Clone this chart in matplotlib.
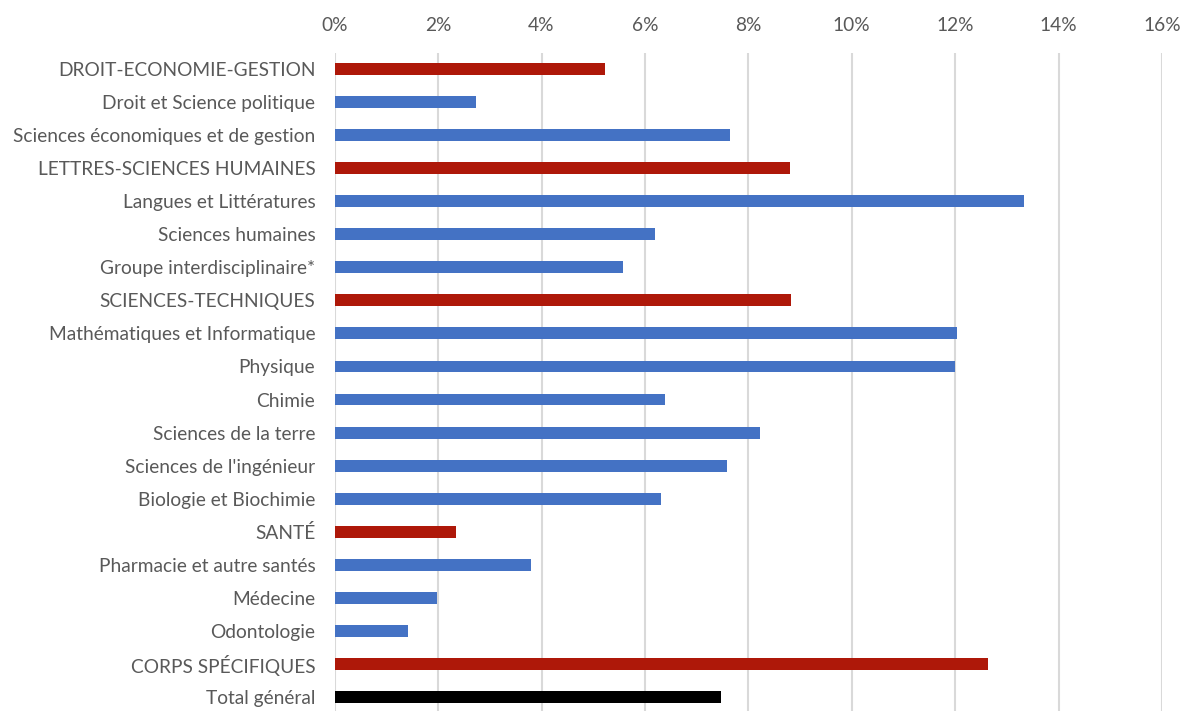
import matplotlib.pyplot as plt
from matplotlib.ticker import PercentFormatter

# Data
categories = [
    "DROIT-ECONOMIE-GESTION",
    "Droit et Science politique",
    "Sciences économiques et de gestion",
    "LETTRES-SCIENCES HUMAINES",
    "Langues et Littératures",
    "Sciences humaines",
    "Groupe interdisciplinaire*",
    "SCIENCES-TECHNIQUES",
    "Mathématiques et Informatique",
    "Physique",
    "Chimie",
    "Sciences de la terre",
    "Sciences de l'ingénieur",
    "Biologie et Biochimie",
    "SANTÉ",
    "Pharmacie et autre santés",
    "Médecine",
    "Odontologie",
    "CORPS SPÉCIFIQUES",
    "Total général",
]
values = [5.22, 2.73, 7.64, 8.80, 13.34, 6.20, 5.58, 8.83, 12.03, 11.99,
          6.38, 8.23, 7.58, 6.32, 2.35, 3.80, 1.97, 1.42, 12.63, 7.48]
kinds = ["group", "sub", "sub", "group", "sub", "sub", "sub", "group", "sub", "sub",
         "sub", "sub", "sub", "sub", "group", "sub", "sub", "sub", "group", "total"]

palette = {"group": "#AE1809", "sub": "#4472C4", "total": "#000000"}
colors = [palette[k] for k in kinds]

plt.rcParams['font.family'] = ['Lato', 'DejaVu Sans']

fig = plt.figure(figsize=(11.83, 7.11), dpi=100)
ax = fig.add_axes([334.7 / 1183, 0, (1162 - 334.7) / 1183, (711 - 52.5) / 711])

y = list(range(len(categories)))
ax.barh(y, values, height=0.36, color=colors, zorder=3)

ax.set_xlim(0, 16)
ax.set_ylim((711 - 69) / 33.05, -0.5)
ax.set_xticks(range(0, 17, 2))
ax.xaxis.set_major_formatter(PercentFormatter(decimals=0))
ax.xaxis.tick_top()
ax.set_yticks(y)
ax.set_yticklabels(categories)
ax.tick_params(axis='both', length=0, labelsize=13.8, colors='#595959')
ax.tick_params(axis='x', pad=13)
ax.tick_params(axis='y', pad=14)
ax.grid(axis='x', color='#D9D9D9', linewidth=1.5, zorder=0)
for s in ax.spines.values():
    s.set_visible(False)

fig.savefig("out.png", dpi=100)
